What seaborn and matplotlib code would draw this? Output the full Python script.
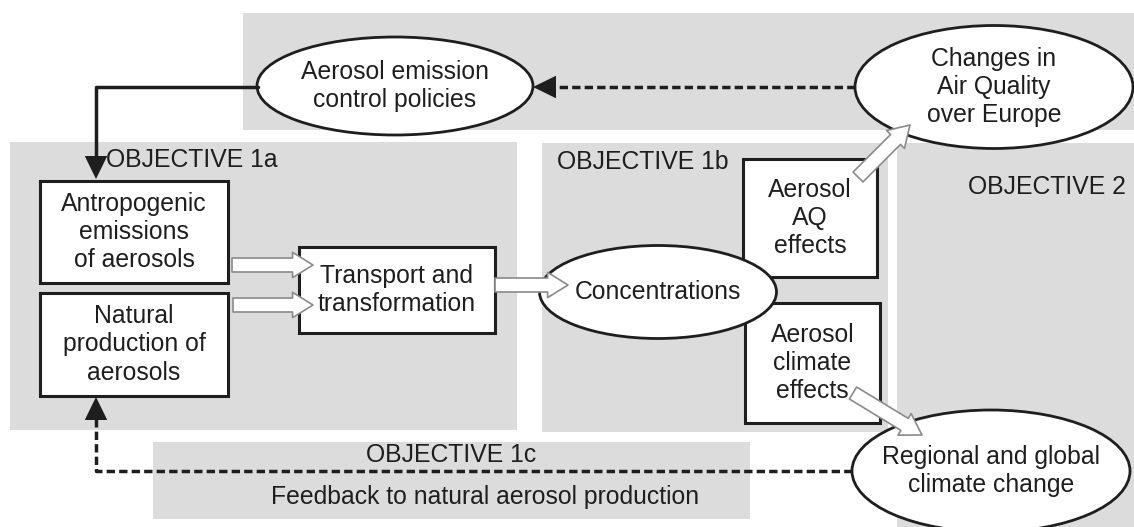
"""
Aerosol objectives flow diagram, drawn with matplotlib patches on a seaborn theme.
Output: out.png (1134x527)
"""

import matplotlib.pyplot as plt
import seaborn as sns
from matplotlib.patches import Rectangle, Ellipse, FancyArrowPatch
from matplotlib.lines import Line2D

# --- text content ---
region_labels = ["OBJECTIVE 1a", "OBJECTIVE 1b", "OBJECTIVE 2", "OBJECTIVE 1c"]
box_labels = [
    "Antropogenic\nemissions\nof aerosols",
    "Natural\nproduction of\naerosols",
    "Transport and\ntransformation",
    "Aerosol\nAQ\neffects",
    "Aerosol\nclimate\neffects",
]
ellipse_labels = [
    "Aerosol emission\ncontrol policies",
    "Changes in\nAir Quality\nover Europe",
    "Concentrations",
    "Regional and global\nclimate change",
]
feedback_label = "Feedback to natural aerosol production"

# --- layout (pixel coords, y downwards) ---
regions = [(10, 142, 507, 288), (542, 143, 346, 289), (897, 143, 237, 384),
           (243, 13, 891, 117), (153, 442, 597, 77)]
boxes = [(40, 181, 188, 102), (40, 293, 188, 103), (299, 247, 196, 86),
         (743, 159, 134, 118), (745, 303, 135, 120)]
ellipses = [(395, 86, 276, 98), (994, 87, 278, 123),
            (658, 292, 237, 93), (991, 471, 278, 122)]

GRAY = "#dcdcdc"
INK = "#1e1e1e"
FS = 17.8
LS = 1.22

sns.set_theme(style="white")
plt.rcParams['font.family'] = ['Liberation Sans', 'DejaVu Sans']

fig = plt.figure(figsize=(11.34, 5.27), dpi=100)
ax = fig.add_axes([0, 0, 1, 1])
ax.set_xlim(0, 1134)
ax.set_ylim(527, 0)
ax.set_axis_off()

for x, y, w, h in regions:
    ax.add_patch(Rectangle((x, y), w, h, fc=GRAY, ec="none", zorder=0))

# region captions
ax.text(106, 160, region_labels[0], fontsize=FS, color=INK, va="center", ha="left")
ax.text(557, 162, region_labels[1], fontsize=FS, color=INK, va="center", ha="left")
ax.text(968, 187, region_labels[2], fontsize=FS, color=INK, va="center", ha="left")
ax.text(451, 455, region_labels[3], fontsize=FS, color=INK, va="center", ha="center")
ax.text(485, 497, feedback_label, fontsize=FS, color=INK, va="center", ha="center")

for (x, y, w, h), lab in zip(boxes, box_labels):
    ax.add_patch(Rectangle((x, y), w, h, fc="white", ec=INK, lw=2.2, zorder=2))
    ax.text(x + w / 2, y + h / 2, lab, fontsize=FS, color=INK, ha="center",
            va="center", linespacing=LS, zorder=5)

for (cx, cy, w, h), lab in zip(ellipses, ellipse_labels):
    ax.add_patch(Ellipse((cx, cy), w, h, fc="white", ec=INK, lw=2, zorder=3))
    ax.text(cx, cy, lab, fontsize=FS, color=INK, ha="center", va="center",
            linespacing=LS, zorder=5)


def hollow(p0, p1):
    ax.add_patch(FancyArrowPatch(
        p0, p1, arrowstyle="simple,head_width=1.3,head_length=1.05,tail_width=0.72",
        mutation_scale=14, fc="white", ec="#8a8a8a", lw=1.2, zorder=4,
        shrinkA=0, shrinkB=0))


hollow((232, 265), (313, 265))
hollow((233, 305), (313, 305))
hollow((495, 285), (568, 285))
hollow((858, 177), (910, 125))
hollow((853, 393), (922, 435))


def head(p0, p1):
    ax.add_patch(FancyArrowPatch(
        p0, p1, arrowstyle="-|>,head_width=0.45,head_length=0.92",
        mutation_scale=18, color=INK, lw=0, zorder=4, shrinkA=0, shrinkB=0))


DASH = (0, (2.4, 1.2))

# control loop: policies -> anthropogenic emissions
ax.add_line(Line2D([258, 96, 96], [87, 87, 165], color=INK, lw=2.5, zorder=4))
head((96, 155), (96, 179))

# dashed: air quality -> policies
ax.add_line(Line2D([855, 548], [87, 87], color=INK, lw=2.5, ls=DASH, zorder=4))
head((557, 87), (533, 87))

# dashed: climate change -> natural production
ax.add_line(Line2D([852, 96, 96], [471, 471, 412], color=INK, lw=2.5, ls=DASH, zorder=4))
head((96, 421), (96, 397))

fig.savefig("out.png", dpi=100, facecolor="white")
